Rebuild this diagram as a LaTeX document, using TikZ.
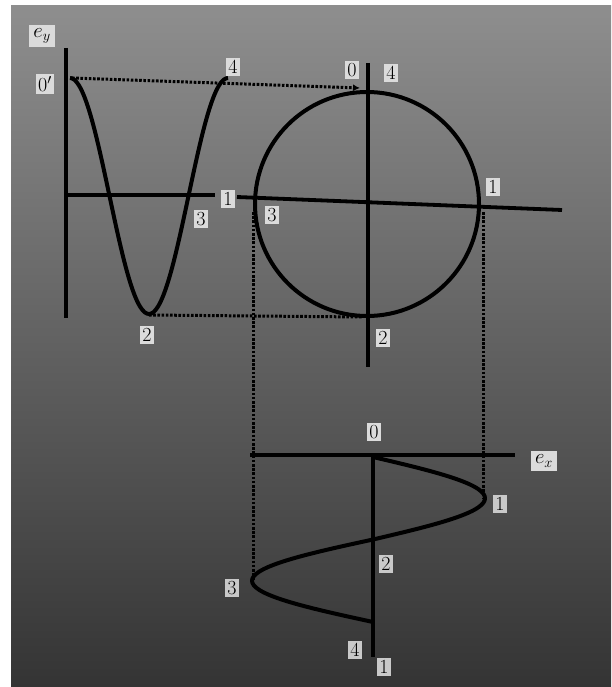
\documentclass[tikz,border=0pt]{standalone}
\usetikzlibrary{arrows.meta}
\begin{document}
\begin{tikzpicture}[x=1pt,y=-1pt,
  axisline/.style={line width=3.8pt,black},
  curve/.style={line width=4pt,black,line join=round},
  proj/.style={line width=3pt,black,dash pattern=on 2.6pt off 1.6pt},
  lab/.style={fill=gray!28,inner sep=2pt,font=\fontsize{20}{20}\selectfont,text=black},
  lab2/.style={lab,fill=gray!42},
  elab/.style={lab,inner sep=4pt,font=\fontsize{22}{22}\selectfont}]
\useasboundingbox (0,0) rectangle (611,687);
\fill[white] (0,0) rectangle (611,687);
\shade[top color={rgb,255:red,142;green,142;blue,142},bottom color={rgb,255:red,52;green,52;blue,52}] (11,6) rectangle (611,687);

% ---------- left cosine plot ----------
\coordinate (lvtop) at (66,48);
\coordinate (lvbot) at (66,318);
\coordinate (lhl) at (66,195);
\coordinate (lhr) at (215,195);
\coordinate (c0) at (72,78);
\coordinate (c2) at (149,315);
\draw[axisline] (lvtop) -- (lvbot);
\draw[axisline] (lhl) -- (lhr);
\draw[curve] plot[variable=\a,domain=0:360,samples=73,smooth] ({70+0.43889*\a},{196-118*cos(\a)});

\node[elab] (ey) at (42,36) {$e_y$};
\node[lab] (l0) at (45,84) {0$'$};
\node[lab] (l4a) at (233,67) {4};
\node[lab] (l1a) at (228,199) {1};
\node[lab] (l3a) at (201,219) {3};
\node[lab] (l2a) at (147,335) {2};

% ---------- circle ----------
\coordinate (cc) at (367,204);
\coordinate (cvtop) at (368,63);
\coordinate (cvbot) at (368,367);
\coordinate (chl) at (237,197);
\coordinate (chr) at (562,210);
\coordinate (ctop) at (360,88);
\coordinate (cbot) at (362,317);
\coordinate (cleft) at (253,212);
\coordinate (cright) at (483,212);
\draw[curve] (cc) circle[radius=112];
\draw[axisline] (cvtop) -- (cvbot);
\draw[axisline] (chl) -- (chr);

\node[lab] (k0) at (352,70) {0};
\node[lab] (k4) at (391,73) {4};
\node[lab] (k1) at (493,187) {1};
\node[lab] (k3) at (272,215) {3};
\node[lab] (k2) at (383,338) {2};

% ---------- bottom sine plot ----------
\coordinate (bhl) at (250,455);
\coordinate (bhr) at (515,455);
\coordinate (bvtop) at (373,455);
\coordinate (bvbot) at (373,657);
\coordinate (s1) at (483,498);
\coordinate (s3) at (253,581);
\draw[axisline] (bhl) -- (bhr);
\draw[axisline] (bvtop) -- (bvbot);
\draw[curve] plot[variable=\a,domain=0:180,samples=37,smooth] ({373+112*sin(\a)},{457+0.45833*\a})
  -- plot[variable=\a,domain=180:360,samples=37,smooth] ({373+121*sin(\a)},{457+0.45833*\a});

\node[lab] (b0) at (374,432) {0};
\node[elab] (ex) at (544,461) {$e_x$};
\node[lab2] (b1) at (500,504) {1};
\node[lab2] (b2) at (386,564) {2};
\node[lab2] (b3) at (232,588) {3};
\node[lab2] (b4) at (355,650) {4};
\node[lab2] (b5) at (384,667) {1};

% ---------- projection lines ----------
\draw[proj,-{Latex[length=7pt,width=7pt]}] (c0) -- (ctop);
\draw[proj] (c2) -- (cbot);
\draw[proj] (cleft) -- (s3);
\draw[proj] (cright) -- (s1);
\end{tikzpicture}
\end{document}
